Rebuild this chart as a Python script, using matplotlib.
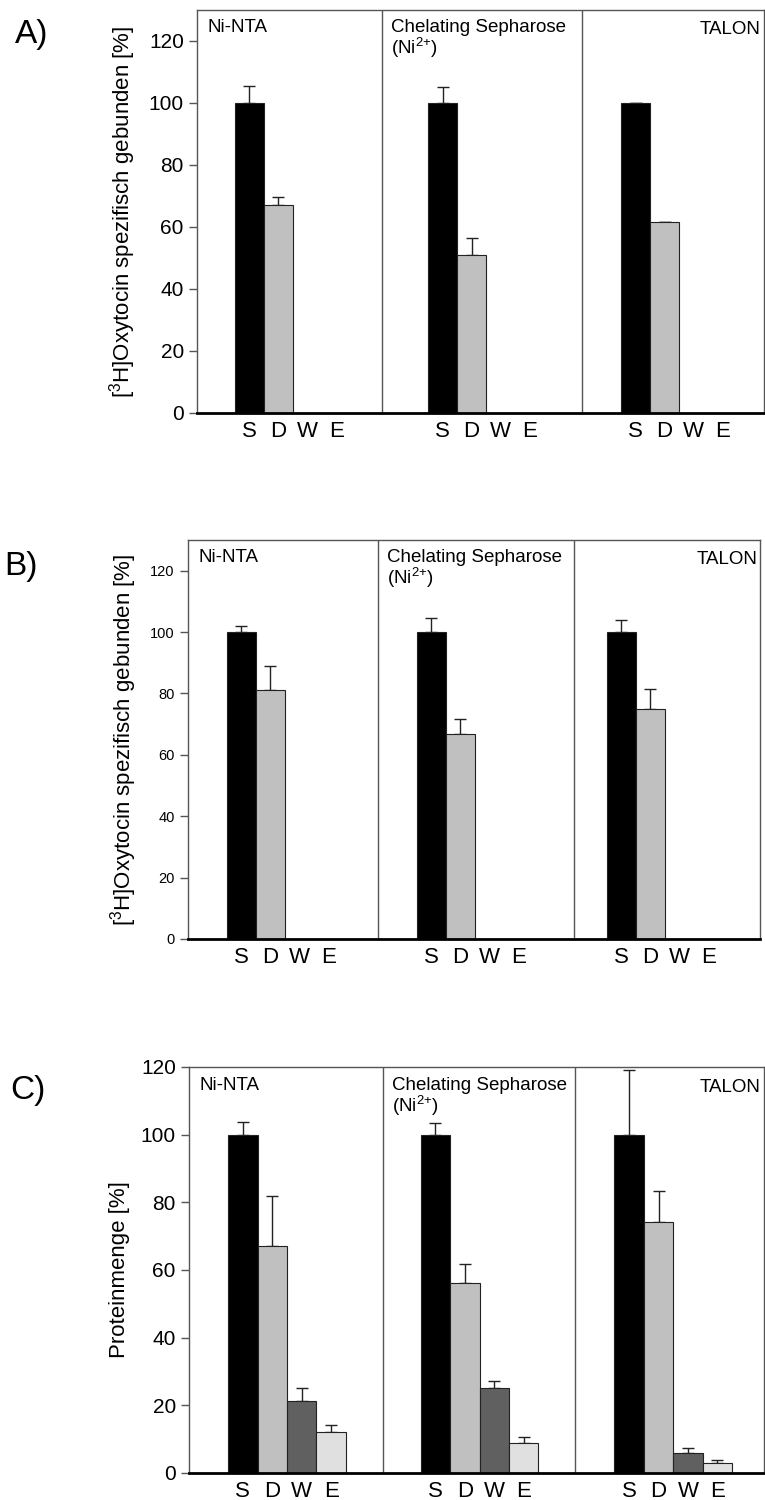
import numpy as np
import matplotlib.pyplot as plt

plt.rcParams['font.family'] = ['Liberation Sans', 'DejaVu Sans']
plt.rcParams['mathtext.fontset'] = 'custom'
plt.rcParams['mathtext.rm'] = 'Liberation Sans'
plt.rcParams['mathtext.it'] = 'Liberation Sans'

FRACTIONS = ['S', 'D', 'W', 'E']
MATRICES = ['Ni-NTA', 'Chelating Sepharose\n(Ni$^{2{+}}$)', 'TALON']
COLORS = ['#000000', '#c0c0c0', '#606060', '#e0e0e0']

# A) [3H]Oxytocin binding, rows = matrix, cols = S D W E
a_vals = [[100, 67, 0, 0], [100, 51, 0, 0], [100, 61.5, 0, 0]]
a_err = [[5.5, 2.5, 0, 0], [5, 5.5, 0, 0], [0, 0, 0, 0]]
# B)
b_vals = [[100, 81, 0, 0], [100, 66.7, 0, 0], [100, 75, 0, 0]]
b_err = [[2, 8, 0, 0], [4.7, 5, 0, 0], [4, 6.5, 0, 0]]
# C) protein amount
c_vals = [[100, 67, 21.2, 12.1], [100, 56.1, 25.1, 9.0], [100, 74.1, 5.9, 3.0]]
c_err = [[3.6, 14.8, 4, 2], [3.3, 5.8, 2, 1.5], [19, 9.2, 1.6, 0.8]]

YLAB_OXY = '[$^3$H]Oxytocin spezifisch gebunden [%]'
YLAB_PROT = 'Proteinmenge [%]'

fig = plt.figure(figsize=(7.65, 15), dpi=100)


def panel(rect, vals, errs, ylabel, ylim, tick_fs, groups, dividers, xlim, letter, letter_xy):
    ax = fig.add_axes(rect)
    for g, (v, e) in enumerate(zip(vals, errs)):
        x = groups[g] + np.arange(len(FRACTIONS))
        shown = [i for i in range(len(v)) if v[i] > 0]
        ax.bar(x[shown], np.array(v)[shown], width=1.0,
               color=[COLORS[i] for i in shown], edgecolor='#222222', linewidth=0.8, zorder=2)
        ax.errorbar(x[shown], np.array(v)[shown],
                    yerr=[np.zeros(len(shown)), np.array(e)[shown]],
                    fmt='none', ecolor='#222222', elinewidth=1.0, capsize=4, capthick=1.0, zorder=1)
    for d in dividers:
        ax.axvline(d, color='#555555', lw=1.0)
    ax.set_xlim(*xlim)
    ax.set_ylim(*ylim)
    ax.set_yticks(np.arange(0, 121, 20))
    ticks = np.concatenate([g + np.arange(4) for g in groups])
    ax.set_xticks(ticks)
    ax.set_xticklabels(FRACTIONS * 3, fontsize=16)
    ax.tick_params(axis='x', length=0, pad=6)
    ax.tick_params(axis='y', labelsize=tick_fs, length=6, width=1, color='#555555', direction='out')
    for s in ['left', 'top', 'right']:
        ax.spines[s].set_color('#555555')
        ax.spines[s].set_linewidth(1.0)
    ax.spines['bottom'].set_linewidth(2.0)
    ax.set_ylabel(ylabel, fontsize=16, labelpad=8)
    ytop = ylim[1]
    ax.text(xlim[0] + 0.35, ytop - 3, MATRICES[0], fontsize=13.5, va='top', ha='left')
    ax.text(dividers[0] + 0.3, ytop - 3, MATRICES[1], fontsize=13.5, va='top', ha='left', linespacing=1.0)
    ax.text(xlim[1] - 0.1, ytop - 3.5, MATRICES[2], fontsize=13.5, va='top', ha='right')
    fig.text(letter_xy[0], letter_xy[1], letter, fontsize=24, va='center', ha='left')
    return ax


panel([0.2575, 0.7247, 0.741, 0.2687], a_vals, a_err, YLAB_OXY, (0, 130), 15,
      [0, 6.66, 13.32], [4.57, 11.47], (-1.81, 17.74), 'A)', (0.02, 0.977))
panel([0.2458, 0.374, 0.7477, 0.266], b_vals, b_err, YLAB_OXY, (0, 130), 10.5,
      [0, 6.55, 13.1], [4.71, 11.47], (-1.84, 17.88), 'B)', (0.005, 0.622))
panel([0.247, 0.018, 0.7516, 0.2707], c_vals, c_err, YLAB_PROT, (0, 120), 15,
      [0, 6.54, 13.12], [4.75, 11.29], (-1.83, 17.7), 'C)', (0.014, 0.273))

fig.savefig('out.png', dpi=100)
